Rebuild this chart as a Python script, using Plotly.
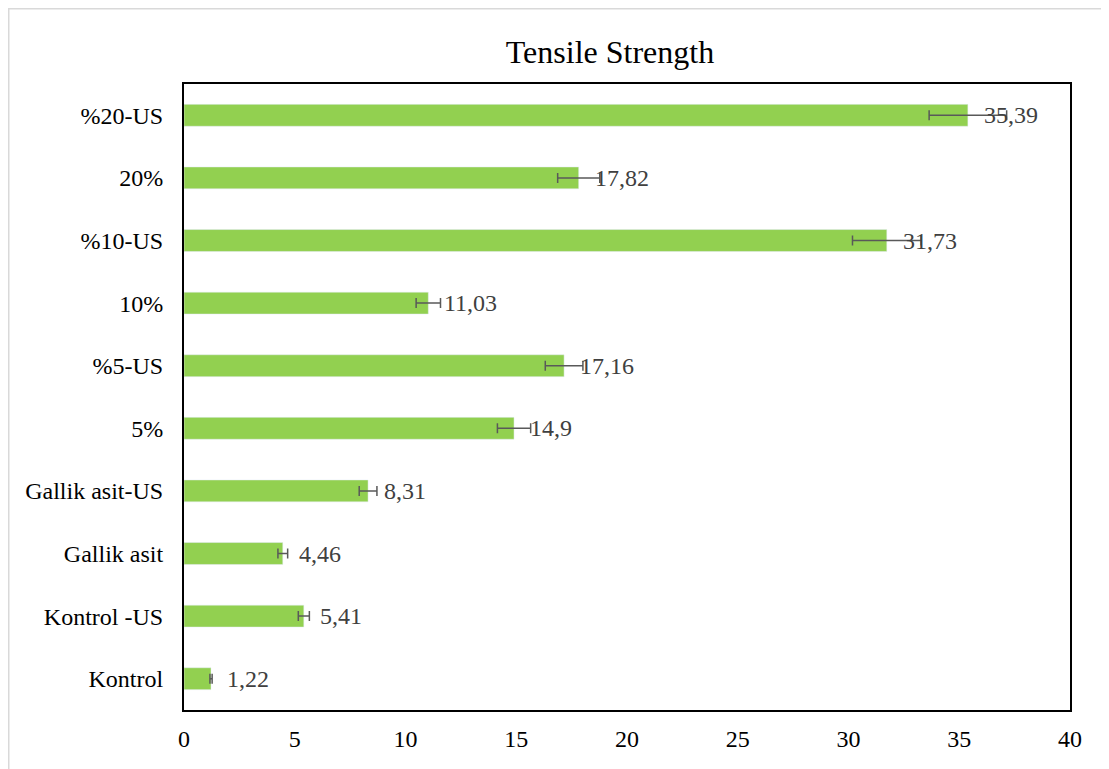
import plotly.graph_objects as go

# categories from bottom to top
kategoriler = ["Kontrol", "Kontrol -US", "Gallik asit", "Gallik asit-US", "5%",
               "%5-US", "10%", "%10-US", "20%", "%20-US"]
degerler = [1.22, 5.41, 4.46, 8.31, 14.9, 17.16, 11.03, 31.73, 17.82, 35.39]
hatalar = [0.05, 0.25, 0.22, 0.4, 0.75, 0.85, 0.55, 1.55, 0.95, 1.75]

etiketler = [str(v).replace(".", ",") for v in degerler]

W, H = 1109, 769
L, T, PW, PH = 176, 76, 886, 626

fig = go.Figure()

fig.add_trace(go.Bar(
    x=degerler,
    y=kategoriler,
    orientation="h",
    marker_color="#92D050",
    width=0.35,
    error_x=dict(type="data", array=hatalar, color="#595959",
                 thickness=1.5, width=5),
))

# data labels, a bit right of each bar end
for cat, val, txt in zip(kategoriler, degerler, etiketler):
    fig.add_annotation(x=val, y=cat, text=txt, showarrow=False,
                       xanchor="left", xshift=14,
                       font=dict(family="Liberation Serif", size=24, color="#404040"))

fig.update_layout(
    width=W, height=H,
    margin=dict(l=L, r=W - L - PW, t=T, b=H - T - PH),
    paper_bgcolor="white", plot_bgcolor="white",
    showlegend=False,
    font=dict(family="Liberation Serif", color="black", size=24),
    title=dict(text="Tensile Strength", x=602 / W, xanchor="center",
               y=1 - 44 / H, yanchor="middle",
               font=dict(family="Liberation Serif", size=32, color="black")),
    xaxis=dict(range=[0, 40], dtick=5, showgrid=False, zeroline=False,
               showline=True, linecolor="black", linewidth=2, mirror=True,
               ticks="", ticklabelstandoff=6,
               tickfont=dict(size=24)),
    yaxis=dict(showgrid=False, showline=True, linecolor="black", linewidth=2,
               mirror=True, ticks="", ticklabelstandoff=14,
               tickfont=dict(size=24)),
    shapes=[dict(type="rect", xref="paper", yref="paper",
                 x0=(0.75 - L) / PW, x1=1 + 80 / PW,
                 y0=-100 / PH, y1=1 + (T - 0.75) / PH,
                 line=dict(color="#D9D9D9", width=1.5))],
)

fig.write_html("out.html")
